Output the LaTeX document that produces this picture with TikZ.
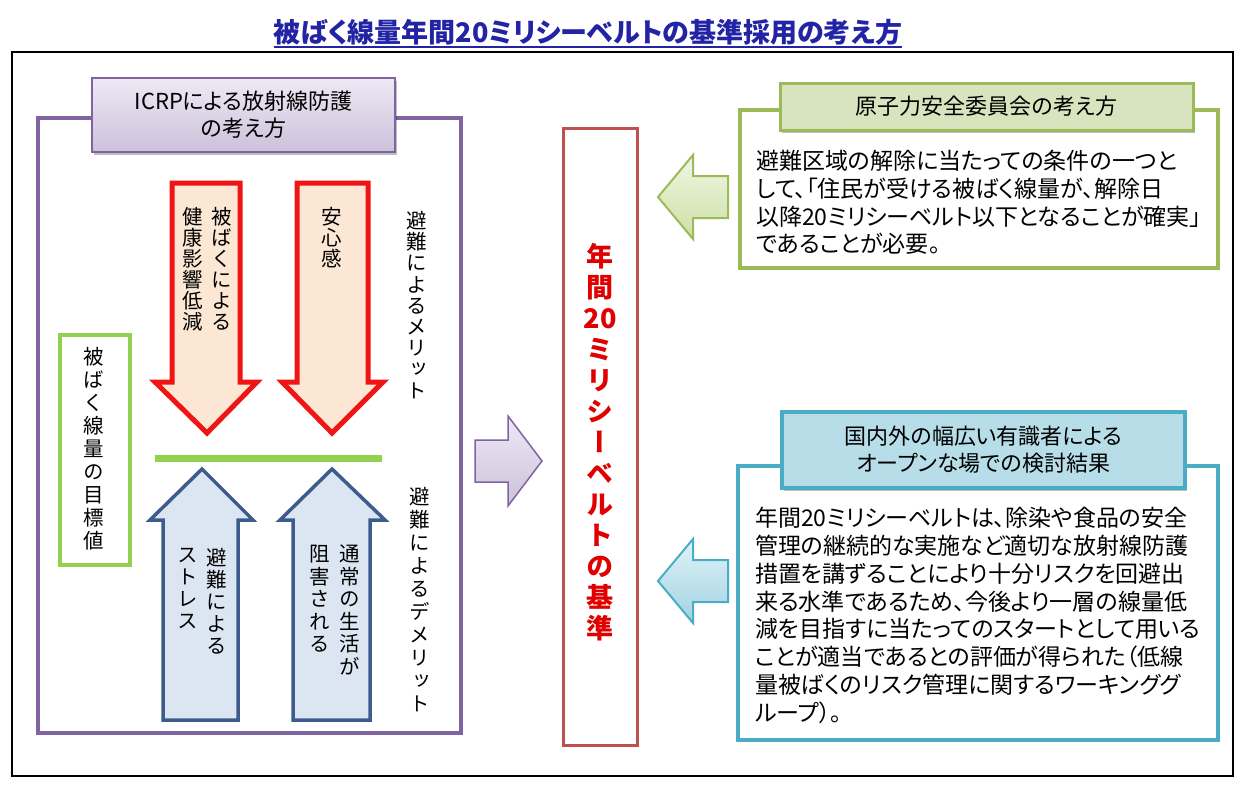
\documentclass[tikz,border=0pt]{standalone}
\usepackage{fontspec}
\setmainfont{Noto Sans CJK JP}
\newfontfamily\jpp[RawFeature=+palt]{Noto Sans CJK JP}
\newfontfamily\jpv[RawFeature=+vert]{Noto Sans CJK JP}
\usetikzlibrary{shadows}
\definecolor{titleblue}{RGB}{35,35,165}
\definecolor{purp}{RGB}{128,100,162}
\definecolor{purpA}{RGB}{238,233,245}
\definecolor{purpB}{RGB}{204,193,218}
\definecolor{arrred}{RGB}{240,20,20}
\definecolor{peach}{RGB}{252,230,212}
\definecolor{arrblue}{RGB}{60,92,140}
\definecolor{paleblue}{RGB}{220,230,242}
\definecolor{lgreen}{RGB}{146,208,80}
\definecolor{ogreen}{RGB}{155,187,89}
\definecolor{greenfill}{RGB}{215,228,189}
\definecolor{greenA}{RGB}{240,246,228}
\definecolor{greenB}{RGB}{205,224,165}
\definecolor{cyanb}{RGB}{75,172,198}
\definecolor{cyanfill}{RGB}{183,222,232}
\definecolor{cyanA}{RGB}{225,243,248}
\definecolor{cyanB}{RGB}{160,210,225}
\definecolor{boxred}{RGB}{192,80,77}
\definecolor{kred}{RGB}{225,0,0}
\makeatletter
\def\vt@end{\vt@end}
\def\vt@endtok{\vt@end}
\newcommand\vtxt[2]{\vbox{\baselineskip=#1\lineskiplimit=-100pt\lineskip=0pt\vt@loop#2\vt@end}}
\def\vt@loop#1{\def\vt@tmp{#1}\ifx\vt@tmp\vt@endtok\else\hbox to 1em{\hss#1\hss}\expandafter\vt@loop\fi}
\makeatother
\tikzset{
  vlab/.style={anchor=north, inner sep=0pt, font=\jpv\fontsize{20.5}{22}\selectfont},
  vside/.style={anchor=north, inner sep=0pt, font=\jpv\fontsize{20.5}{22}\selectfont},
  downarrow/.style={draw=arrred, line width=5pt, fill=peach, line join=miter},
  uparrow/.style={draw=arrblue, line width=3.5pt, fill=paleblue, line join=miter},
  labelbox/.style={inner sep=0pt, align=center, font=\jpp\fontsize{22}{27}\selectfont,
     drop shadow={shadow xshift=2pt, shadow yshift=-3pt, opacity=0.25, fill=black}},
  bodytext/.style={anchor=north west, inner sep=0pt, align=left, font=\jpp\fontsize{23}{27.8}\selectfont}
}
\begin{document}
\begin{tikzpicture}[x=1pt,y=-1pt]
\useasboundingbox (0,0) rectangle (1246,784);
\fill[white] (0,0) rectangle (1246,784);
% title
\node[inner sep=0pt, text=titleblue, font=\jpp\fontsize{27}{30}\selectfont\bfseries] (title) at (588,32) {被ばく線量年間20ミリシーベルトの基準採用の考え方};
\draw[titleblue, line width=1.6pt] ([yshift=-2pt]title.south west) -- ([yshift=-2pt]title.south east);
% outer frame
\draw[black, line width=2pt] (12,52) rectangle (1233,776);
% ICRP frame
\draw[purp, line width=4pt] (38,118) rectangle (461,733);
\node[labelbox, draw=purp, line width=2pt, top color=purpA, bottom color=purpB,
  minimum width=303pt, minimum height=74pt] (icrp) at (243.5,115) {ICRPによる放射線防護\\の考え方};
% red down arrows
\draw[downarrow] (172,183) -- (240,183) -- (240,382) -- (257,382) -- (207,433) -- (155,382) -- (172,382) -- cycle;
\draw[downarrow] (297,183) -- (368,183) -- (368,382) -- (383,382) -- (332,433) -- (282,382) -- (297,382) -- cycle;
\node[vlab] (m1a) at (222,207) {\vtxt{21pt}{被ばくによる}};
\node[vlab] (m1b) at (193,207) {\vtxt{21pt}{健康影響低減}};
\node[vlab] (m2) at (332,207) {\vtxt{21pt}{安心感}};
\node[vside] (merit) at (417,211) {\vtxt{21.2pt}{避難によるメリット}};
% balance line
\draw[lgreen, line width=7pt] (155,458) -- (382,458);
% blue up arrows
\draw[uparrow] (163,720) -- (238,720) -- (238,520) -- (253,520) -- (202,469) -- (150,520) -- (163,520) -- cycle;
\draw[uparrow] (293,720) -- (370,720) -- (370,520) -- (385,520) -- (332,469) -- (280,520) -- (293,520) -- cycle;
\node[vlab] (d1a) at (217,548) {\vtxt{22pt}{避難による}};
\node[vlab] (d1b) at (188,548) {\vtxt{22pt}{ストレス}};
\node[vlab] (d2a) at (350,545) {\vtxt{22.5pt}{通常の生活が}};
\node[vlab] (d2b) at (320,545) {\vtxt{22.5pt}{阻害される}};
\node[vside] (demerit) at (420,487) {\vtxt{23pt}{避難によるデメリット}};
% target value box
\node[draw=lgreen, line width=4pt, minimum width=70pt, minimum height=230pt, inner sep=0pt] (target) at (95,450) {};
\node[vlab] (targett) at (94,347) {\vtxt{23pt}{被ばく線量の目標値}};
% purple arrow
\draw[draw=purp, line width=1.5pt, top color=purpA, bottom color=purpB]
  (475,440) -- (508,440) -- (508,416) -- (542,461) -- (508,506) -- (508,482) -- (475,482) -- cycle;
% central box
\node[draw=boxred, line width=3pt, minimum width=74pt, minimum height=617pt, inner sep=0pt] (kijun) at (600,436.5) {};
\node[anchor=north, inner sep=0pt, text=kred, font=\jpv\fontsize{27}{30}\selectfont\bfseries] (kijunt) at (600,243) {\vtxt{31pt}{年間{20}ミリシーベルトの基準}};
% top right group
\draw[ogreen, line width=4pt, fill=white] (740,110) rectangle (1218,268);
\node[labelbox, draw=ogreen, line width=3pt, fill=greenfill, minimum width=413pt, minimum height=47pt] (nsc) at (986.5,106.5) {原子力安全委員会の考え方};
\node[bodytext] (nsct) at (756,150) {避難区域の解除に当たっての条件の一つと\\して、「住民が受ける被ばく線量が、解除日\\以降20ミリシーベルト以下となることが確実」\\であることが必要。};
\draw[draw=ogreen, line width=2pt, top color=greenA, bottom color=greenB]
  (728,176) -- (693,176) -- (693,155) -- (658,197) -- (693,239) -- (693,218) -- (728,218) -- cycle;
% bottom right group
\draw[cyanb, line width=4pt, fill=white] (738,466) rectangle (1218,740);
\node[labelbox, draw=cyanb, line width=4pt, fill=cyanfill, minimum width=403pt, minimum height=76pt] (wg) at (983.5,450) {国内外の幅広い有識者による\\オープンな場での検討結果};
\node[bodytext] (wgt) at (755,507) {年間20ミリシーベルトは、除染や食品の安全\\管理の継続的な実施など適切な放射線防護\\措置を講ずることにより十分リスクを回避出\\来る水準であるため、今後より一層の線量低\\減を目指すに当たってのスタートとして用いる\\ことが適当であるとの評価が得られた（低線\\量被ばくのリスク管理に関するワーキンググ\\ループ）。};
\draw[draw=cyanb, line width=2pt, top color=cyanA, bottom color=cyanB]
  (728,560) -- (693,560) -- (693,539) -- (658,581) -- (693,623) -- (693,602) -- (728,602) -- cycle;
\end{tikzpicture}
\end{document}
